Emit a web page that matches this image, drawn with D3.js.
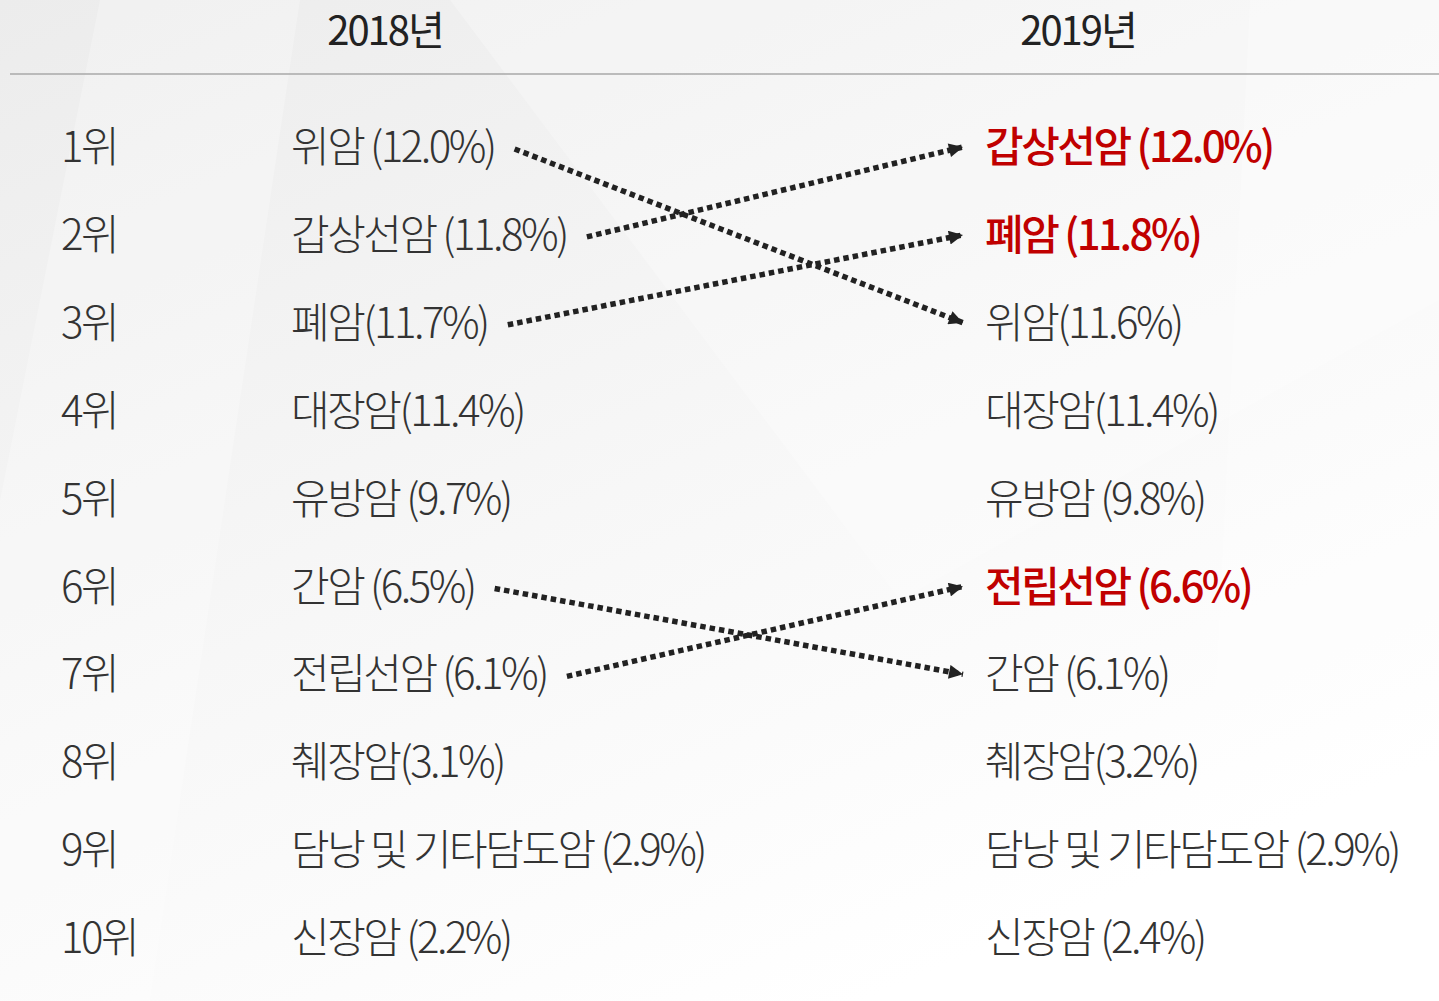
<!DOCTYPE html>
<html>
<head>
<meta charset="utf-8">
<script src="https://cdn.jsdelivr.net/npm/d3@7"></script>
<style>
  html, body { margin: 0; padding: 0; overflow: hidden; }
  text { font-family: "Noto Sans CJK KR", "Noto Sans", sans-serif; }
</style>
</head>
<body>
<script>
// 2018 -> 2019 암 발생 순위 비교

var width = 1439;
var height = 1001;

var years = ["2018년", "2019년"];
var ranks = ["1위", "2위", "3위", "4위", "5위", "6위", "7위", "8위", "9위", "10위"];

var names2018 = ["위암 ", "갑상선암 ", "폐암", "대장암", "유방암 ", "간암 ", "전립선암 ", "췌장암", "담낭 및 기타담도암 ", "신장암 "];
var values2018 = [12.0, 11.8, 11.7, 11.4, 9.7, 6.5, 6.1, 3.1, 2.9, 2.2];

var names2019 = ["갑상선암 ", "폐암 ", "위암", "대장암", "유방암 ", "전립선암 ", "간암 ", "췌장암", "담낭 및 기타담도암 ", "신장암 "];
var values2019 = [12.0, 11.8, 11.6, 11.4, 9.8, 6.6, 6.1, 3.2, 2.9, 2.4];

// rank went up in 2019 -> red
var risers = ["갑상선암", "폐암", "전립선암"];

var colX = { rank: 61, y2018: 291, y2019: 985 };
var arrowEnd = 963;

var y = d3.scalePoint()
    .domain(ranks)
    .range([147, 938]);

var svg = d3.select("body").append("svg")
    .attr("width", width)
    .attr("height", height);

var defs = svg.append("defs");

var bg = defs.append("linearGradient")
    .attr("id", "bg")
    .attr("x1", "0").attr("y1", "0")
    .attr("x2", "0.6").attr("y2", "1");
bg.append("stop").attr("offset", "0").attr("stop-color", "#ececec");
bg.append("stop").attr("offset", "0.55").attr("stop-color", "#f7f7f7");
bg.append("stop").attr("offset", "1").attr("stop-color", "#ffffff");

defs.append("marker")
    .attr("id", "head")
    .attr("viewBox", "0 0 10 10")
    .attr("refX", 10)
    .attr("refY", 5)
    .attr("markerUnits", "userSpaceOnUse")
    .attr("markerWidth", 16)
    .attr("markerHeight", 14)
    .attr("orient", "auto")
  .append("path")
    .attr("d", "M0,0 L10,5 L0,10 Z")
    .attr("fill", "#222");

svg.append("rect")
    .attr("width", width)
    .attr("height", height)
    .attr("fill", "url(#bg)");

// faint facets in the background
var facets = [
    [[100, 0], [300, 0], [150, 1001], [0, 1001], [0, 500]],
    [[450, 0], [1439, 0], [1439, 300], [900, 600]],
    [[1250, 0], [1439, 0], [1439, 1001], [1200, 1001]]
];
svg.selectAll(".facet").data(facets).enter()
    .append("polygon")
    .attr("class", "facet")
    .attr("points", function(d) { return d.join(" "); })
    .attr("fill", "#ffffff")
    .attr("opacity", 0.25);

// header
svg.selectAll(".year").data(years).enter()
    .append("text")
    .attr("class", "year")
    .attr("x", function(d, i) { return i == 0 ? 385 : 1078; })
    .attr("y", 45)
    .attr("text-anchor", "middle")
    .attr("font-size", 40)
    .attr("font-weight", 400)
    .attr("letter-spacing", -2)
    .attr("fill", "#222")
    .text(function(d) { return d; });

svg.append("line")
    .attr("x1", 10)
    .attr("x2", width)
    .attr("y1", 74)
    .attr("y2", 74)
    .attr("stroke", "#a9a9a9")
    .attr("stroke-width", 1.5);

var fs = 42;
var ls = -2.5;

function label(name, v) {
    return name + "(" + v.toFixed(1) + "%)";
}

svg.selectAll(".rank").data(ranks).enter()
    .append("text")
    .attr("class", "rank")
    .attr("x", colX.rank)
    .attr("y", function(d) { return y(d); })
    .attr("dy", "0.36em")
    .attr("font-size", fs)
    .attr("font-weight", 300)
    .attr("letter-spacing", ls)
    .attr("fill", "#333")
    .text(function(d) { return d; });

var left = svg.selectAll(".l2018").data(names2018).enter()
    .append("text")
    .attr("class", "l2018")
    .attr("x", colX.y2018)
    .attr("y", function(d, i) { return y(ranks[i]); })
    .attr("dy", "0.36em")
    .attr("font-size", fs)
    .attr("font-weight", 300)
    .attr("letter-spacing", ls)
    .attr("fill", "#333")
    .text(function(d, i) { return label(d, values2018[i]); });

svg.selectAll(".l2019").data(names2019).enter()
    .append("text")
    .attr("class", "l2019")
    .attr("x", colX.y2019)
    .attr("y", function(d, i) { return y(ranks[i]); })
    .attr("dy", "0.36em")
    .attr("font-size", fs)
    .attr("letter-spacing", ls)
    .attr("font-weight", function(d) { return risers.indexOf(d.trim()) >= 0 ? 500 : 300; })
    .attr("fill", function(d) { return risers.indexOf(d.trim()) >= 0 ? "#c00000" : "#333"; })
    .text(function(d, i) { return label(d, values2019[i]); });

// arrows for every cancer whose rank changed
var moves = [];
left.each(function(d, i) {
    var j = names2019.map(function(n) { return n.trim(); }).indexOf(d.trim());
    if (j >= 0 && j != i) {
        moves.push({
            x1: colX.y2018 + this.getComputedTextLength() + 20,
            y1: y(ranks[i]) + 2,
            y2: y(ranks[j])
        });
    }
});

svg.selectAll(".move").data(moves).enter()
    .append("line")
    .attr("class", "move")
    .attr("x1", function(d) { return d.x1; })
    .attr("y1", function(d) { return d.y1; })
    .attr("x2", arrowEnd)
    .attr("y2", function(d) { return d.y2; })
    .attr("stroke", "#222")
    .attr("stroke-width", 5.5)
    .attr("stroke-dasharray", "5.5,4")
    .attr("marker-end", "url(#head)");
</script>
</body>
</html>
